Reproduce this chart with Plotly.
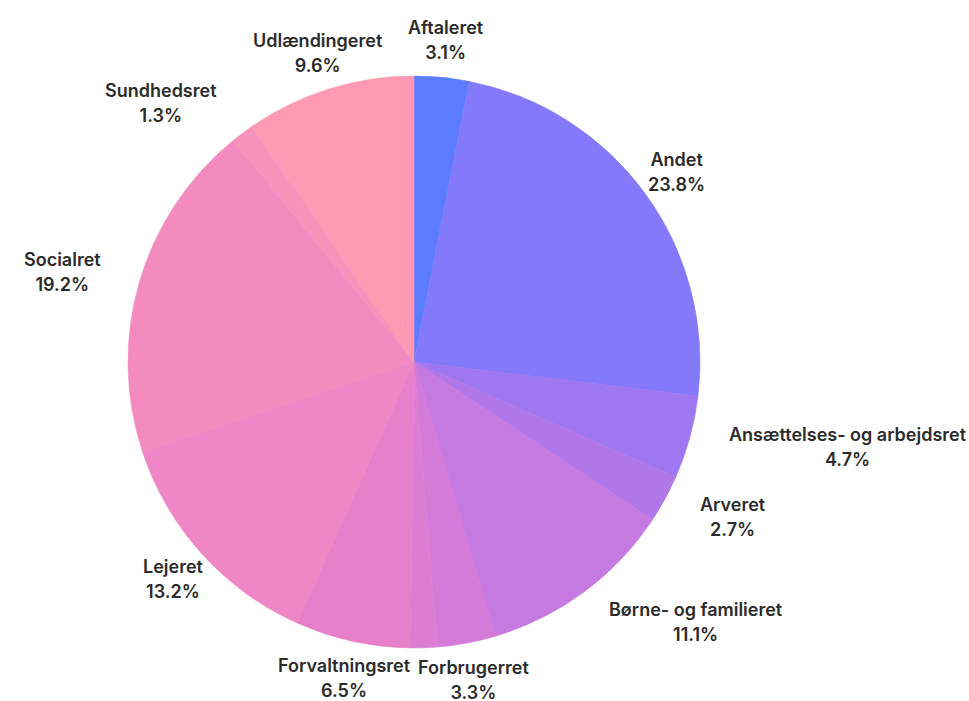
import math
import plotly.graph_objects as go

labels = ["Aftaleret", "Andet", "Ansættelses- og arbejdsret", "Arveret",
          "Børne- og familieret", "Forbrugerret", "Forsikringsret",
          "Forvaltningsret", "Lejeret", "Socialret", "Sundhedsret", "Udlændingeret"]
values = [3.1, 23.8, 4.7, 2.7, 11.1, 3.3, 1.5, 6.5, 13.2, 19.2, 1.3, 9.6]
show_label = [True, True, True, True, True, True, False, True, True, True, True, True]
colors = ["#5b7cff", "#8479fb", "#9f77f1", "#b177e9", "#c679e0", "#d47bd9",
          "#dc7dd3", "#e680cb", "#ef86c5", "#f48bc0", "#f892bb", "#fd99b2"]
# horizontal anchoring of each outside label (layout only)
label_anchor = ["center", "center", "left", "left", "left", "center", "center",
                "center", "center", "right", "right", "center"]

W, H = 969, 701
ML, MR, MT, MB = 0, 141, 76, 53
PW, PH = W - ML - MR, H - MT - MB
CX, CY = ML + PW / 2, MT + PH / 2
R = min(PW, PH) / 2
LABEL_DIST = R + 38
FS = 18
LINE_FS = 25 / 1.3  # gives 25 px between the two text lines


def to_paper(px, py):
    return (px - ML) / PW, 1 - (py - MT) / PH


fig = go.Figure(go.Pie(
    labels=labels, values=values, sort=False, direction="clockwise", rotation=0,
    marker=dict(colors=colors, line=dict(width=0.6, color=colors)),
    textinfo="none", hoverinfo="label+percent",
    showlegend=False, automargin=False,
))

total = sum(values)
cum = 0.0
annotations = []
for lab, val, show, anc in zip(labels, values, show_label, label_anchor):
    mid = cum + val / 2
    cum += val
    if not show:
        continue
    th = 2 * math.pi * mid / total
    px = CX + LABEL_DIST * math.sin(th)
    py = CY - LABEL_DIST * math.cos(th)
    pct = f"{val / total * 100:.1f}%"
    x, y = to_paper(px, py)
    span = f"<span style='font-size:{FS}px'>"
    annotations.append(dict(
        x=x, y=y, xref="paper", yref="paper",
        text=f"{span}{lab}</span><br>{span}{pct}</span>",
        showarrow=False, xanchor=anc, yanchor="middle", align="center",
        font=dict(family="Inter", size=LINE_FS, color="#2b2b2b", weight=600),
    ))

fig.update_layout(
    width=W, height=H,
    margin=dict(l=ML, r=MR, t=MT, b=MB, autoexpand=False),
    paper_bgcolor="white", plot_bgcolor="white",
    annotations=annotations,
)
fig.write_html(
    "out.html",
    config={"displayModeBar": False},
    post_script="document.body.style.margin='0';document.body.style.overflow='hidden';",
)
